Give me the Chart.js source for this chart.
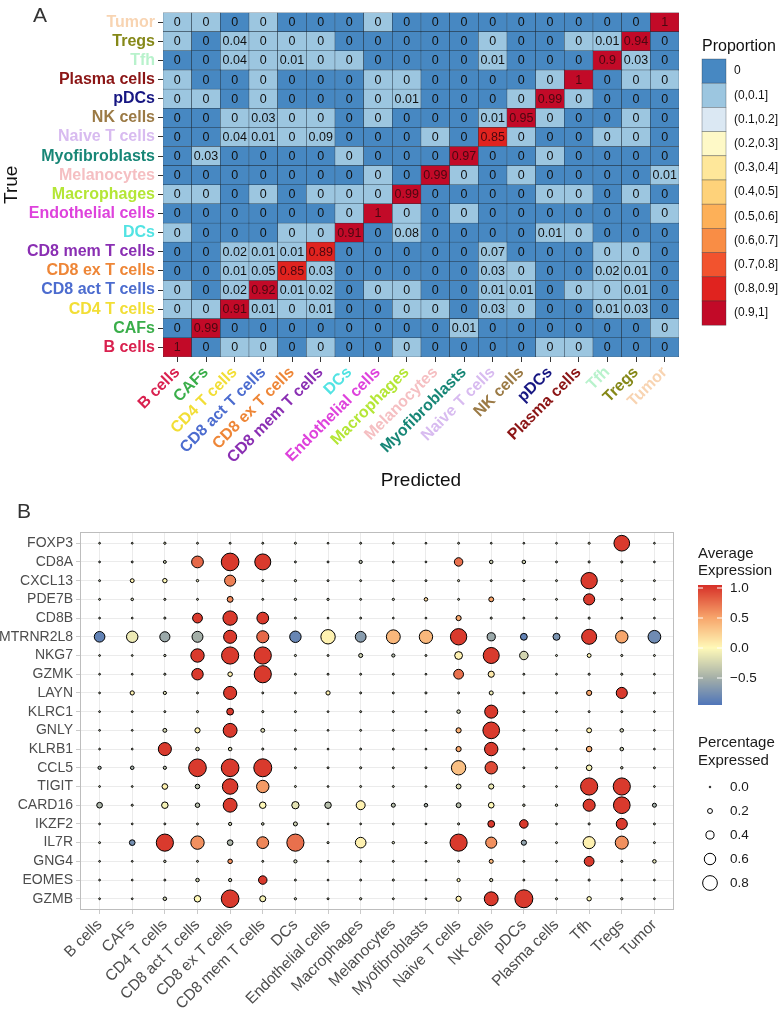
<!DOCTYPE html>
<html>
<head>
<meta charset="utf-8">
<script src="https://cdn.jsdelivr.net/npm/chart.js@4.4.1/dist/chart.umd.min.js"></script>
<style>
  html, body { margin: 0; padding: 0; background: #fff; }
  #wrapA { position: absolute; left: 0; top: 0; }
  #wrapB { position: absolute; left: 0; top: 490px; }
</style>
</head>
<body>
<div id="wrapA"><canvas id="heat" width="780" height="490"></canvas></div>
<div id="wrapB"><canvas id="dots" width="780" height="523"></canvas></div>
<script>
// cell types, in axis order (also the row order of every matrix below)
const cellTypes = ['B cells', 'CAFs', 'CD4 T cells', 'CD8 act T cells', 'CD8 ex T cells', 'CD8 mem T cells',
  'DCs', 'Endothelial cells', 'Macrophages', 'Melanocytes', 'Myofibroblasts', 'Naive T cells',
  'NK cells', 'pDCs', 'Plasma cells', 'Tfh', 'Tregs', 'Tumor'];
const typeColors = ['#D9214F', '#3AAE4A', '#F2DE36', '#4C6CCF', '#EE8637', '#8A2FB3',
  '#52E3E3', '#DE42DC', '#B4E636', '#F5BFC2', '#178676', '#D8BBF0',
  '#9B7A45', '#161682', '#8B1515', '#B8F2CC', '#858818', '#F8D4B2'];

// proportion of true class (row) predicted as each class (column)
const proportions = [
  [1, 0, .003, .003, 0, .003, 0, 0, .003, 0, 0, 0, 0, .003, .003, 0, 0, 0],           // B cells
  [0, .99, 0, 0, 0, 0, 0, 0, 0, 0, .01, 0, 0, 0, 0, 0, 0, .003],                        // CAFs
  [.003, .003, .91, .01, .003, .01, 0, 0, .003, .003, 0, .03, .003, 0, 0, .01, .03, 0], // CD4 T cells
  [.003, 0, .02, .92, .01, .02, 0, .003, .003, 0, 0, .01, .01, 0, .003, .003, .01, 0],  // CD8 act
  [0, 0, .01, .05, .85, .03, 0, 0, 0, 0, 0, .03, .003, 0, 0, .02, .01, 0],              // CD8 ex
  [0, 0, .02, .01, .01, .89, 0, 0, 0, 0, 0, .07, 0, 0, 0, .003, .003, 0],               // CD8 mem
  [.003, 0, 0, 0, .003, .003, .91, 0, .08, 0, 0, 0, 0, .01, .003, 0, 0, 0],             // DCs
  [0, 0, 0, 0, 0, 0, .003, 1, .003, 0, .003, 0, 0, 0, 0, 0, 0, .003],                   // Endothelial
  [.003, .003, 0, .003, 0, .003, .003, .003, .99, 0, 0, 0, 0, .003, .003, 0, .003, 0],  // Macrophages
  [0, 0, 0, 0, 0, 0, 0, .003, 0, .99, .003, 0, .003, 0, 0, 0, 0, .01],                  // Melanocytes
  [0, .03, 0, 0, 0, 0, .003, 0, 0, 0, .97, 0, 0, .003, 0, 0, 0, 0],                     // Myofibroblasts
  [0, 0, .04, .01, .003, .09, 0, 0, 0, .003, 0, .85, .003, 0, 0, .003, .003, 0],        // Naive T
  [0, 0, .003, .03, .003, .003, 0, .003, 0, 0, 0, .01, .95, .003, 0, 0, .003, 0],       // NK cells
  [.003, .003, 0, .003, 0, 0, 0, .003, .01, 0, 0, 0, .003, .99, .003, 0, 0, 0],         // pDCs
  [.003, 0, 0, .003, 0, 0, 0, .003, .003, 0, 0, 0, 0, .003, 1, 0, .003, .003],          // Plasma
  [0, 0, .04, .003, .01, .003, .003, 0, 0, 0, 0, .01, 0, 0, 0, .904, .03, 0],           // Tfh
  [.003, 0, .04, .003, .003, .003, 0, 0, 0, 0, 0, .003, 0, 0, .003, .01, .94, 0],       // Tregs
  [.003, .003, 0, .003, 0, 0, 0, .003, 0, 0, 0, 0, 0, 0, 0, 0, 0, 1]                    // Tumor
];
const proportionBins = ['0', '(0,0.1]', '(0.1,0.2]', '(0.2,0.3]', '(0.3,0.4]', '(0.4,0.5]',
  '(0.5,0.6]', '(0.6,0.7]', '(0.7,0.8]', '(0.8,0.9]', '(0.9,1]'];
const binColors = ['#4788C2', '#9CC6E0', '#DBE8F3', '#FEF9C7', '#FEE79A', '#FED27A',
  '#FDB058', '#F98D45', '#F2532E', '#E0231F', '#C20A28'];

// dot plot: genes top to bottom, values per cell type
const genes = ['FOXP3', 'CD8A', 'CXCL13', 'PDE7B', 'CD8B', 'MTRNR2L8', 'NKG7', 'GZMK', 'LAYN', 'KLRC1',
  'GNLY', 'KLRB1', 'CCL5', 'TIGIT', 'CARD16', 'IKZF2', 'IL7R', 'GNG4', 'EOMES', 'GZMB'];
const pctExpressed = [
  [.01, .01, .04, .02, .02, .02, .03, .01, .02, .02, .01, .02, .01, .01, .01, .03, .86, .01],
  [.01, .02, .08, .62, .98, .88, .02, .02, .1, .02, .01, .42, .12, .12, .02, .03, .03, .01],
  [.02, .14, .17, .05, .58, .03, .04, .02, .02, .02, .02, .03, .02, .02, .02, .9, .04, .02],
  [.02, .06, .03, .02, .26, .02, .04, .04, .02, .04, .12, .02, .2, .02, .02, .58, .03, .03],
  [.01, .01, .03, .5, .78, .62, .02, .01, .02, .01, .01, .22, .03, .02, .01, .03, .02, .01],
  [.55, .6, .52, .57, .7, .64, .6, .78, .56, .75, .72, .9, .4, .32, .33, .82, .66, .68],
  [.01, .01, .04, .72, .95, .95, .03, .02, .15, .1, .02, .38, .88, .42, .02, .14, .03, .02],
  [.01, .01, .03, .6, .18, .95, .02, .02, .02, .02, .01, .5, .28, .02, .01, .03, .03, .01],
  [.01, .16, .1, .02, .7, .02, .02, .16, .02, .02, .03, .02, .15, .02, .02, .22, .58, .02],
  [.01, .01, .02, .03, .32, .03, .02, .01, .02, .02, .01, .12, .7, .02, .01, .02, .02, .01],
  [.01, .01, .14, .22, .75, .14, .02, .01, .02, .02, .01, .22, .92, .02, .01, .2, .12, .01],
  [.01, .01, .7, .12, .12, .03, .02, .01, .02, .02, .01, .22, .72, .02, .01, .24, .12, .01],
  [.1, .12, .1, .98, .98, 1, .02, .02, .03, .02, .02, .78, .66, .02, .02, .25, .05, .02],
  [.01, .01, .25, .18, .85, .66, .02, .01, .02, .02, .01, .2, .22, .02, .01, .95, .95, .01],
  [.25, .03, .3, .18, .75, .3, .35, .3, .45, .15, .12, .2, .25, .05, .05, .64, .92, .15],
  [.01, .01, .02, .02, .1, .06, .15, .01, .01, .02, .01, .03, .32, .42, .01, .03, .58, .02],
  [.02, .25, .95, .72, .25, .62, .95, .03, .55, .05, .03, .95, .58, .22, .02, .64, .7, .02],
  [.01, .01, .05, .02, .18, .02, .1, .01, .02, .02, .01, .03, .15, .02, .01, .5, .03, .12],
  [.01, .01, .02, .12, .1, .42, .02, .01, .02, .03, .01, .1, .1, .02, .01, .03, .02, .01],
  [.01, .01, .12, .3, .98, .27, .04, .02, .04, .02, .01, .22, .75, 1, .03, .17, .04, .01]
];
const avgExpression = [
  [-.3, -.3, -.2, -.3, -.3, -.3, -.3, -.3, -.3, -.3, -.3, -.3, -.3, -.3, -.3, -.1, 1, -.3],
  [-.4, -.4, -.3, .78, 1, 1, -.4, -.4, -.4, -.4, -.4, .75, -.3, -.3, -.4, -.3, -.3, -.4],
  [-.3, .05, 0, -.2, .68, -.3, -.3, -.3, -.3, -.3, -.3, -.2, -.3, -.3, -.3, 1, -.2, -.3],
  [-.3, -.3, -.3, -.3, .62, -.3, -.3, -.3, -.3, -.3, .2, -.3, .5, -.3, -.3, 1, -.3, -.3],
  [-.3, -.3, -.3, 1, 1, 1, -.3, -.3, -.3, -.3, -.3, .5, -.3, -.3, -.3, -.3, -.3, -.3],
  [-.85, -.1, -.55, -.5, 1, .78, -.82, .05, -.65, .4, .4, 1, -.55, -.85, -.72, 1, .5, -.78],
  [-.3, -.3, -.3, 1, 1, 1, -.3, -.3, -.3, -.4, -.3, .05, 1, -.25, -.3, 0, -.3, -.3],
  [-.3, -.3, -.3, 1, .05, 1, -.3, -.3, -.3, -.3, -.3, .75, .1, -.3, -.3, -.3, -.3, -.3],
  [-.3, .05, -.2, -.3, 1, -.3, -.3, .05, -.3, -.3, -.3, -.3, -.1, -.3, -.3, .5, 1, -.3],
  [-.3, -.3, -.3, -.3, 1, -.3, -.3, -.3, -.3, -.3, -.3, -.3, 1, -.3, -.3, -.3, -.3, -.3],
  [-.3, -.3, -.25, .05, 1, -.2, -.3, -.3, -.3, -.3, -.3, .45, 1, -.3, -.3, .05, -.3, -.3],
  [-.3, -.3, 1, -.2, -.2, -.3, -.3, -.3, -.3, -.3, -.3, .5, 1, -.3, -.3, .45, -.3, -.3],
  [-.5, -.5, -.4, 1, 1, 1, -.3, -.3, -.3, -.3, -.3, .35, .92, -.3, -.3, -.05, -.3, -.3],
  [-.3, -.3, .05, -.4, 1, .55, -.3, -.3, -.3, -.3, -.3, -.2, -.1, -.3, -.3, 1, 1, -.3],
  [-.45, -.3, -.05, -.4, 1, 0, -.15, -.4, .05, -.4, -.5, -.4, 0, -.3, -.3, 1, 1, -.5],
  [-.3, -.3, -.3, -.3, -.3, -.3, -.3, -.3, -.3, -.3, -.3, -.3, 1, 1, -.3, -.3, 1, -.3],
  [-.3, -.75, 1, .6, -.45, .65, .75, -.3, .05, -.3, -.3, 1, .6, -.6, -.3, .05, .6, -.3],
  [-.3, -.3, -.3, -.3, .6, -.3, -.3, -.3, -.3, -.3, -.3, -.3, .4, -.3, -.3, 1, -.3, -.2],
  [-.3, -.3, -.3, -.3, -.3, 1, -.3, -.3, -.3, -.3, -.3, 0, -.2, -.3, -.3, -.3, -.3, -.3],
  [-.3, -.3, -.3, 0, 1, -.05, -.3, -.3, -.3, -.3, -.3, .05, 1, 1, -.3, 0, -.3, -.3]
];
const expressionTicks = [1.0, 0.5, 0.0, -0.5];
const pctTicks = [0.0, 0.2, 0.4, 0.6, 0.8];

const FONT = '"Liberation Sans", Arial, Helvetica, sans-serif';

function binIndex(v) {
  if (v <= 0) return 0;
  return Math.min(10, Math.ceil(v * 10 - 1e-9));
}
function fmt(v) {
  return String(Number(v.toFixed(2)));
}
const expStops = [[-0.95, [79, 117, 185]], [-0.5, [164, 175, 168]], [0, [255, 249, 184]],
  [0.5, [247, 166, 108]], [1.05, [214, 47, 39]]];
function expColor(v) {
  v = Math.max(expStops[0][0], Math.min(expStops[expStops.length - 1][0], v));
  for (let i = 1; i < expStops.length; i++) {
    if (v <= expStops[i][0]) {
      const [a, ca] = expStops[i - 1], [b, cb] = expStops[i];
      const t = (v - a) / (b - a);
      return 'rgb(' + ca.map((c, k) => Math.round(c + (cb[k] - c) * t)).join(',') + ')';
    }
  }
}
function dotRadius(p) {
  return 0.8 + 8.2 * p;
}

// ---------- Panel A: confusion heatmap (stacked unit bars) ----------
const cellText = {
  id: 'cellText',
  afterDatasetsDraw(chart) {
    const ctx = chart.ctx;
    ctx.save();
    ctx.font = '12.5px ' + FONT;
    ctx.textAlign = 'center';
    ctx.textBaseline = 'middle';
    chart.data.datasets.forEach((ds, r) => {
      chart.getDatasetMeta(r).data.forEach((bar, c) => {
        const v = proportions[r][c];
        const p = bar.getProps(['x', 'y', 'base'], true);
        ctx.fillStyle = v > 0.8 ? '#4a0810' : '#111';
        ctx.fillText(fmt(v), p.x, (p.y + p.base) / 2 + 0.5);
      });
    });
    ctx.restore();
  }
};

const panelA = {
  id: 'panelA',
  afterDraw(chart) {
    const ctx = chart.ctx;
    const area = chart.chartArea;
    ctx.save();
    ctx.fillStyle = '#333';
    ctx.font = '21px ' + FONT;
    ctx.textAlign = 'left';
    ctx.textBaseline = 'middle';
    ctx.fillText('A', 33, 16);

    ctx.fillStyle = '#111';
    ctx.font = '19px ' + FONT;
    ctx.textAlign = 'center';
    ctx.fillText('Predicted', (area.left + area.right) / 2, 481);
    ctx.save();
    ctx.translate(12, (area.top + area.bottom) / 2);
    ctx.rotate(-Math.PI / 2);
    ctx.fillText('True', 0, 0);
    ctx.restore();

    // legend
    ctx.textAlign = 'left';
    ctx.font = '16px ' + FONT;
    ctx.fillText('Proportion', 702, 47);
    ctx.font = '12px ' + FONT;
    const h = 24.2;
    proportionBins.forEach((lab, i) => {
      const y = 59 + i * h;
      ctx.fillStyle = binColors[i];
      ctx.fillRect(702, y, 24, h);
      ctx.strokeStyle = 'rgba(40,50,60,0.55)';
      ctx.lineWidth = 0.6;
      ctx.strokeRect(702, y, 24, h);
      ctx.fillStyle = '#111';
      ctx.fillText(lab, 734, y + h / 2);
    });
    ctx.restore();
  }
};

new Chart(document.getElementById('heat'), {
  type: 'bar',
  data: {
    labels: cellTypes,
    datasets: cellTypes.map((name, r) => ({
      label: name,
      data: cellTypes.map(() => 1),
      backgroundColor: ctx => binColors[binIndex(proportions[r][ctx.dataIndex])],
      borderColor: '#22303e',
      borderWidth: 0.5,
      borderSkipped: false,
      categoryPercentage: 1,
      barPercentage: 1
    }))
  },
  options: {
    responsive: false,
    animation: false,
    events: [],
    layout: { padding: { top: 7, right: 101, left: 0, bottom: 0 } },
    plugins: { legend: { display: false }, tooltip: { enabled: false } },
    scales: {
      x: {
        stacked: true,
        grid: { display: true, drawOnChartArea: false, offset: false, tickLength: 5, color: '#333' },
        border: { display: false },
        ticks: {
          autoSkip: false, minRotation: 45, maxRotation: 45, padding: 1,
          color: ctx => typeColors[ctx.index],
          font: { family: FONT, size: 16, weight: 'bold' }
        },
        afterFit: s => { s.height = 133; }
      },
      y: {
        stacked: true, min: 0, max: cellTypes.length,
        afterBuildTicks: s => { s.ticks = cellTypes.map((_, i) => ({ value: i + 0.5 })); },
        grid: { display: true, drawOnChartArea: false, tickLength: 5, color: '#333' },
        border: { display: false },
        ticks: {
          autoSkip: false, padding: 3,
          callback: (v, i) => cellTypes[i],
          color: ctx => typeColors[ctx.index],
          font: { family: FONT, size: 16, weight: 'bold' }
        },
        afterFit: s => { s.width = 163; }
      }
    }
  },
  plugins: [cellText, panelA]
});

// ---------- Panel B: dot plot ----------
const dotPoints = [];
genes.forEach((g, gi) => {
  cellTypes.forEach((c, ci) => {
    dotPoints.push({ x: ci, y: gi, r: dotRadius(pctExpressed[gi][ci]), expr: avgExpression[gi][ci] });
  });
});

const panelB = {
  id: 'panelB',
  beforeDatasetsDraw(chart) {
    const ctx = chart.ctx;
    const a = chart.chartArea;
    ctx.save();
    ctx.strokeStyle = '#BDBDBD';
    ctx.lineWidth = 1;
    ctx.strokeRect(a.left + 0.5, a.top + 0.5, a.right - a.left - 1, a.bottom - a.top - 1);
    ctx.restore();
  },
  afterDraw(chart) {
    const ctx = chart.ctx;
    ctx.save();
    ctx.fillStyle = '#333';
    ctx.font = '21px ' + FONT;
    ctx.textBaseline = 'middle';
    ctx.fillText('B', 17, 22);

    ctx.fillStyle = '#1a1a1a';
    ctx.font = '15px ' + FONT;
    ctx.fillText('Average', 698, 64);
    ctx.fillText('Expression', 698, 81);

    // colour bar
    const top = 95, bottom = 215, vmax = 1.05, vmin = -0.95;
    const yOf = v => top + (vmax - v) / (vmax - vmin) * (bottom - top);
    for (let y = top; y < bottom; y++) {
      const v = vmax - (y + 0.5 - top) / (bottom - top) * (vmax - vmin);
      ctx.fillStyle = expColor(v);
      ctx.fillRect(698, y, 24, 1);
    }
    ctx.font = '13.5px ' + FONT;
    expressionTicks.forEach(t => {
      const y = yOf(t);
      ctx.strokeStyle = '#fff';
      ctx.lineWidth = 1;
      ctx.beginPath();
      ctx.moveTo(698, y); ctx.lineTo(703, y);
      ctx.moveTo(717, y); ctx.lineTo(722, y);
      ctx.stroke();
      ctx.fillStyle = '#1a1a1a';
      ctx.fillText(t === 0 ? '0.0' : (t < 0 ? '\u2212' : '') + Math.abs(t).toFixed(1), 730, y);
    });

    // size legend
    ctx.font = '15px ' + FONT;
    ctx.fillText('Percentage', 698, 253);
    ctx.fillText('Expressed', 698, 271);
    ctx.font = '13.5px ' + FONT;
    pctTicks.forEach((p, i) => {
      const y = 297 + i * 24;
      ctx.beginPath();
      ctx.arc(710, y, dotRadius(p), 0, Math.PI * 2);
      ctx.fillStyle = '#fff';
      ctx.fill();
      ctx.strokeStyle = '#000';
      ctx.lineWidth = 1;
      ctx.stroke();
      ctx.fillStyle = '#1a1a1a';
      ctx.fillText(p.toFixed(1), 730, y);
    });
    ctx.restore();
  }
};

new Chart(document.getElementById('dots'), {
  type: 'bubble',
  data: {
    datasets: [{
      data: dotPoints,
      backgroundColor: ctx => expColor(ctx.raw.expr),
      borderColor: '#000',
      borderWidth: 1,
      hoverRadius: 0
    }]
  },
  options: {
    responsive: false,
    animation: false,
    events: [],
    layout: { padding: { top: 42, right: 106, left: 0, bottom: 0 } },
    plugins: { legend: { display: false }, tooltip: { enabled: false } },
    scales: {
      x: {
        type: 'linear', min: -0.6, max: cellTypes.length - 0.4,
        afterBuildTicks: s => { s.ticks = cellTypes.map((_, i) => ({ value: i })); },
        grid: { color: '#E6E6E6', tickColor: '#BDBDBD', tickLength: 4, lineWidth: 0.8 },
        border: { display: false },
        ticks: {
          autoSkip: false, minRotation: 45, maxRotation: 45, padding: 2,
          callback: v => cellTypes[v],
          color: '#4D4D4D',
          font: { family: FONT, size: 15.5 }
        },
        afterFit: s => { s.height = 103; }
      },
      y: {
        type: 'linear', reverse: true, min: -0.6, max: genes.length - 0.4,
        afterBuildTicks: s => { s.ticks = genes.map((_, i) => ({ value: i })); },
        grid: { color: '#E6E6E6', tickColor: '#BDBDBD', tickLength: 4, lineWidth: 0.8 },
        border: { display: false },
        ticks: {
          autoSkip: false, padding: 3,
          callback: v => genes[v],
          color: '#4D4D4D',
          font: { family: FONT, size: 14 }
        },
        afterFit: s => { s.width = 80; }
      }
    }
  },
  plugins: [panelB]
});
</script>
</body>
</html>
